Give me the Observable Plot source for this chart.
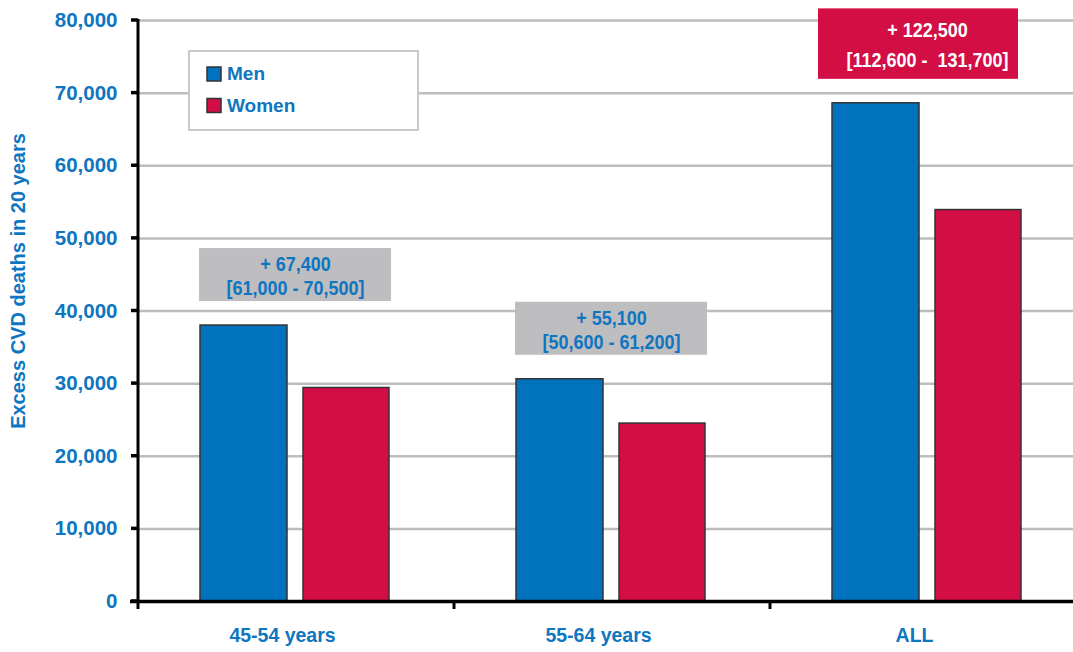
<!DOCTYPE html>
<html>
<head>
<meta charset="utf-8">
<script src="https://cdn.jsdelivr.net/npm/d3@7"></script>
<script src="https://cdn.jsdelivr.net/npm/@observablehq/plot@0.6"></script>
<style>
  html, body { margin: 0; padding: 0; background: #fff; overflow: hidden; }
  #chart svg { overflow: hidden; display: block; }
</style>
</head>
<body>
<div id="chart"></div>
<script>
// Excess CVD deaths over 20 years, by age group and sex
const groups = ["45-54 years", "55-64 years", "ALL"];
const series = ["Men", "Women"];
const seriesColors = ["#0173BE", "#D30E45"];
const menDeaths = [38000, 30600, 68600];
const womenDeaths = [29400, 24500, 53900];
const totalLabels = ["+ 67,400", "+ 55,100", "+ 122,500"];
const rangeLabels = ["[61,000 - 70,500]", "[50,600 - 61,200]", "[112,600 -  131,700]"];
const yTicks = [0, 10000, 20000, 30000, 40000, 50000, 60000, 70000, 80000];
const yTitle = "Excess CVD deaths in 20 years";

const textBlue = "#0E76C0";
const boxGray = "#BEBEC1";
const gridGray = "#BDBDC0";
const font = "'Liberation Sans', Arial, Helvetica, sans-serif";

const rows = groups.flatMap((g, i) => [
  {group: g, sex: series[0], value: menDeaths[i]},
  {group: g, sex: series[1], value: womenDeaths[i]}
]);

// Summary boxes sit a little above the taller bar of each group
const notes = groups.map((g, i) => ({
  group: g,
  top: Math.max(menDeaths[i], womenDeaths[i]),
  total: totalLabels[i],
  range: rangeLabels[i],
  highlight: g === "ALL"
}));
const grayNotes = notes.filter(d => !d.highlight);
const redNotes = notes.filter(d => d.highlight);

const W = 1073, H = 652, ML = 137, MT = 20, MB = 51, MR = -12;

const plot = Plot.plot({
  width: W,
  height: H,
  marginLeft: ML,
  marginTop: MT,
  marginBottom: MB,
  marginRight: MR,
  style: {fontFamily: font, fontWeight: "bold", background: "white", overflow: "hidden"},
  x: {type: "band", domain: groups, padding: 0, axis: null},
  y: {domain: [0, 80000], axis: null},
  color: {domain: series, range: seriesColors},
  marks: [
    Plot.ruleY(yTicks.filter(d => d > 0), {stroke: gridGray, strokeWidth: 2.5}),
    Plot.barY(rows.filter(d => d.sex === "Men"), {
      x: "group", y: "value", fill: "sex", stroke: "#333", strokeWidth: 1.5,
      insetLeft: 63, insetRight: 166
    }),
    Plot.barY(rows.filter(d => d.sex === "Women"), {
      x: "group", y: "value", fill: "sex", stroke: "#333", strokeWidth: 1.5,
      insetLeft: 166, insetRight: 64
    }),
    Plot.barY(grayNotes, {
      x: "group", y1: d => d.top + 3300, y2: d => d.top + 10600,
      fill: boxGray, insetLeft: 62, insetRight: 62
    }),
    Plot.barY(redNotes, {
      x: "group", y1: d => d.top + 3300, y2: d => d.top + 13000,
      fill: seriesColors[1], insetLeft: 49, insetRight: 67
    }),
    Plot.text(grayNotes, {x: "group", y: d => d.top + 6950, text: "total", dy: -10.5, fill: textBlue, fontSize: 20}),
    Plot.text(grayNotes, {x: "group", y: d => d.top + 6950, text: "range", dy: 13.5, fill: textBlue, fontSize: 20}),
    Plot.text(redNotes, {x: "group", y: d => d.top + 8150, text: "total", dy: -14, fill: "white", fontSize: 20}),
    Plot.text(redNotes, {x: "group", y: d => d.top + 8150, text: "range", dy: 16, fill: "white", fontSize: 20}),
    Plot.ruleY([0], {stroke: "black", strokeWidth: 3.5, insetLeft: -7}),
    // y tick labels
    Plot.text(yTicks, {
      y: d => d, text: d => d3.format(",")(d), frameAnchor: "left",
      textAnchor: "end", lineAnchor: "middle", dx: -20, fill: textBlue, fontSize: 20.5
    }),
    // category labels
    Plot.text(groups, {
      x: d => d, text: d => d, frameAnchor: "bottom", lineAnchor: "middle",
      textAnchor: "middle", dy: 34, dx: -13, fill: textBlue, fontSize: 19.5
    }),
    // y axis title
    Plot.text([yTitle], {
      text: d => d, frameAnchor: "left", rotate: -90, textAnchor: "middle",
      lineAnchor: "middle", dx: -119, dy: -30, fill: textBlue, fontSize: 20
    })
  ]
});

document.getElementById("chart").appendChild(plot);

const svg = d3.select(plot);
const ys = plot.scale("y");
const xs = plot.scale("x");
const yPx = v => ys.apply ? ys.apply(v)
  : ys.range[0] + (v - ys.domain[0]) / (ys.domain[1] - ys.domain[0]) * (ys.range[1] - ys.range[0]);
const xPx = g => xs.apply ? xs.apply(g)
  : xs.range[0] + groups.indexOf(g) * (xs.range[1] - xs.range[0]) / groups.length;

// Condense the box labels slightly
const condensed = new Set([...totalLabels, ...rangeLabels]);
svg.selectAll("text").each(function () {
  if (condensed.has(this.textContent)) {
    const len = this.getComputedTextLength();
    this.setAttribute("textLength", (len * 0.9).toFixed(1));
    this.setAttribute("lengthAdjust", "spacingAndGlyphs");
  }
});

// Axis lines and ticks
const axes = svg.append("g").attr("stroke", "black");
axes.append("line")
  .attr("x1", ML + 1).attr("x2", ML + 1)
  .attr("y1", yPx(80000) - 1).attr("y2", yPx(0))
  .attr("stroke-width", 3);
axes.selectAll(".ytick").data(yTicks).join("line")
  .attr("x1", ML - 6).attr("x2", ML + 1)
  .attr("y1", d => yPx(d)).attr("y2", d => yPx(d))
  .attr("stroke-width", 3.5);
axes.selectAll(".xtick").data(groups).join("line")
  .attr("x1", d => xPx(d) + 1).attr("x2", d => xPx(d) + 1)
  .attr("y1", yPx(0)).attr("y2", yPx(0) + 8)
  .attr("stroke-width", 3);

// Legend
const color = plot.scale("color");
const lg = svg.append("g")
  .attr("font-family", font).attr("font-weight", "bold").attr("text-anchor", "start");
lg.append("rect")
  .attr("x", 189).attr("y", 51).attr("width", 229).attr("height", 79)
  .attr("fill", "white").attr("stroke", "#C9C9C9").attr("stroke-width", 2);
series.forEach((s, i) => {
  lg.append("rect")
    .attr("x", 207).attr("y", 67 + i * 31.5).attr("width", 14).attr("height", 14)
    .attr("fill", color.apply ? color.apply(s) : seriesColors[i])
    .attr("stroke", "#333").attr("stroke-width", 1.5);
  lg.append("text")
    .attr("x", 227).attr("y", 80 + i * 31.5)
    .attr("font-size", 19).attr("fill", textBlue)
    .text(s);
});
</script>
</body>
</html>
